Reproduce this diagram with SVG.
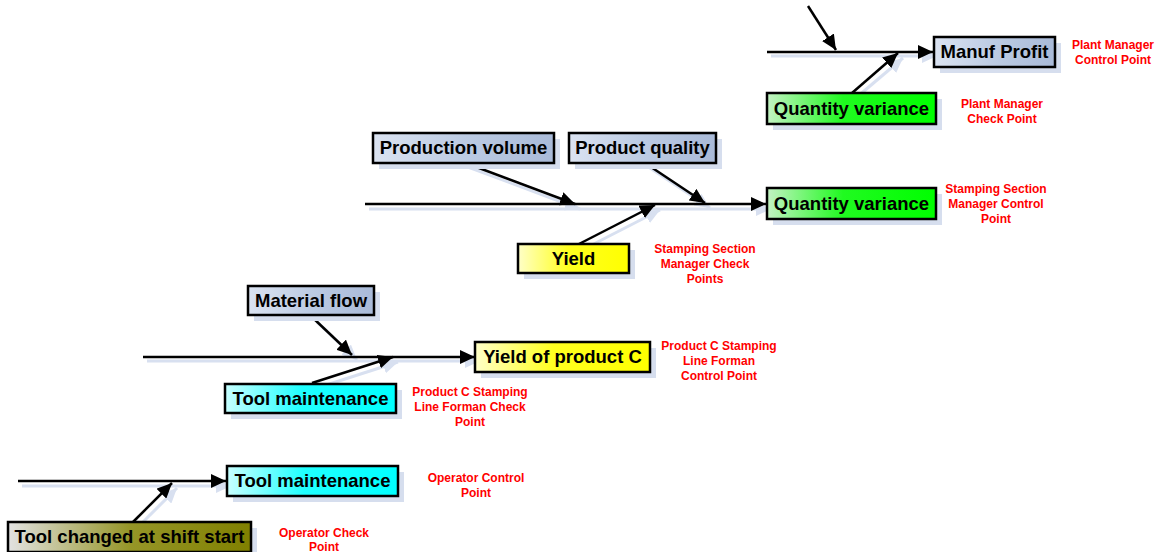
<svg xmlns="http://www.w3.org/2000/svg" width="1159" height="552" viewBox="0 0 1159 552">
<style>
.box{stroke:#000;stroke-width:2.5}
.sh{fill:#d6deee}
.t{font-family:"Liberation Sans",Arial,sans-serif;font-weight:bold;font-size:18.5px;fill:#000;text-anchor:middle}
.r{font-family:"Liberation Sans",Arial,sans-serif;font-weight:bold;font-size:12px;fill:#ff0000;text-anchor:middle}
.ln{stroke:#000;stroke-width:2.5;fill:none;marker-end:url(#ah)}
.lns{stroke:#d8e0f0;stroke-width:3;fill:none;marker-end:url(#ahs)}
</style>
<defs>
<marker id="ah" markerUnits="userSpaceOnUse" markerWidth="16" markerHeight="14" refX="15" refY="7" orient="auto" viewBox="0 0 16 14"><path d="M0,0 L15,7 L0,14 z" fill="#000"/></marker>
<marker id="ahs" markerUnits="userSpaceOnUse" markerWidth="16" markerHeight="14" refX="15" refY="7" orient="auto" viewBox="0 0 16 14"><path d="M0,0 L15,7 L0,14 z" fill="#d8e0f0"/></marker>
<linearGradient id="gb" x1="0" x2="1" y1="0" y2="0"><stop offset="0" stop-color="#dbe3f1"/><stop offset="0.5" stop-color="#bccbe3"/><stop offset="1" stop-color="#a9bad8"/></linearGradient>
<linearGradient id="gg" x1="0" x2="1" y1="0" y2="0"><stop offset="0" stop-color="#c4f2c4"/><stop offset="0.45" stop-color="#20fa20"/><stop offset="1" stop-color="#00ff00"/></linearGradient>
<linearGradient id="gy" x1="0" x2="1" y1="0" y2="0"><stop offset="0" stop-color="#ffffc8"/><stop offset="0.45" stop-color="#ffff20"/><stop offset="1" stop-color="#ffff00"/></linearGradient>
<linearGradient id="gc" x1="0" x2="1" y1="0" y2="0"><stop offset="0" stop-color="#c8ffff"/><stop offset="0.45" stop-color="#20ffff"/><stop offset="1" stop-color="#00ffff"/></linearGradient>
<linearGradient id="go" x1="0" x2="1" y1="0" y2="0"><stop offset="0" stop-color="#e2e2e2"/><stop offset="0.5" stop-color="#969628"/><stop offset="1" stop-color="#808000"/></linearGradient>
</defs>

<g id="connectors-shadow">
<line class="lns" x1="771" y1="56" x2="937" y2="56"/>
<line class="lns" x1="857" y1="97" x2="903" y2="58"/>
<line class="lns" x1="369" y1="209" x2="771" y2="209"/>
<line class="lns" x1="468" y1="167" x2="580" y2="209"/>
<line class="lns" x1="650" y1="168" x2="710" y2="208"/>
<line class="lns" x1="582" y1="250" x2="660" y2="210"/>
<line class="lns" x1="147" y1="361" x2="480" y2="361"/>
<line class="lns" x1="317" y1="322" x2="357" y2="360"/>
<line class="lns" x1="317" y1="388" x2="398" y2="362"/>
<line class="lns" x1="22" y1="486" x2="231" y2="486"/>
<line class="lns" x1="138" y1="527" x2="177" y2="488"/>
</g>

<g id="connectors">
<line class="ln" x1="767" y1="52" x2="933" y2="52"/>
<line class="ln" x1="808" y1="6" x2="836" y2="50"/>
<line class="ln" x1="852" y1="93" x2="898" y2="53"/>
<line class="ln" x1="365" y1="204" x2="766" y2="204"/>
<line class="ln" x1="463" y1="162" x2="575" y2="204"/>
<line class="ln" x1="645" y1="163" x2="705" y2="203"/>
<line class="ln" x1="577" y1="245" x2="655" y2="205"/>
<line class="ln" x1="143" y1="357" x2="475" y2="357"/>
<line class="ln" x1="312" y1="317" x2="352" y2="355"/>
<line class="ln" x1="312" y1="383" x2="393" y2="357"/>
<line class="ln" x1="18" y1="481" x2="226" y2="481"/>
<line class="ln" x1="133" y1="522" x2="172" y2="483"/>
</g>

<g id="manuf-profit">
<rect class="sh" x="940" y="43" width="121" height="30"/>
<rect class="box" x="934" y="37" width="121" height="30" fill="url(#gb)"/>
<text class="t" x="994.5" y="58">Manuf Profit</text>
</g>
<g id="qv-top">
<rect class="sh" x="773" y="99" width="169" height="31"/>
<rect class="box" x="767" y="93" width="169" height="31" fill="url(#gg)"/>
<text class="t" x="851.5" y="114.5">Quantity variance</text>
</g>
<g id="production-volume">
<rect class="sh" x="379" y="139" width="181" height="30"/>
<rect class="box" x="373" y="133" width="181" height="30" fill="url(#gb)"/>
<text class="t" x="463.5" y="154">Production volume</text>
</g>
<g id="product-quality">
<rect class="sh" x="575" y="139" width="147" height="30"/>
<rect class="box" x="569" y="133" width="147" height="30" fill="url(#gb)"/>
<text class="t" x="642.5" y="154">Product quality</text>
</g>
<g id="qv-mid">
<rect class="sh" x="773" y="194" width="169" height="31"/>
<rect class="box" x="767" y="188" width="169" height="31" fill="url(#gg)"/>
<text class="t" x="851.5" y="209.5">Quantity variance</text>
</g>
<g id="yield">
<rect class="sh" x="524" y="250" width="111" height="29"/>
<rect class="box" x="518" y="244" width="111" height="29" fill="url(#gy)"/>
<text class="t" x="573.5" y="264.5">Yield</text>
</g>
<g id="material-flow">
<rect class="sh" x="254" y="292" width="126" height="29"/>
<rect class="box" x="248" y="286" width="126" height="29" fill="url(#gb)"/>
<text class="t" x="311" y="306.5">Material flow</text>
</g>
<g id="yield-c">
<rect class="sh" x="481" y="348" width="175" height="30"/>
<rect class="box" x="475" y="342" width="175" height="30" fill="url(#gy)"/>
<text class="t" x="562.5" y="363">Yield of product C</text>
</g>
<g id="tool-maint-mid">
<rect class="sh" x="231" y="390" width="171" height="29"/>
<rect class="box" x="225" y="384" width="171" height="29" fill="url(#gc)"/>
<text class="t" x="310.5" y="404.5">Tool maintenance</text>
</g>
<g id="tool-maint-bot">
<rect class="sh" x="233" y="472" width="171" height="30"/>
<rect class="box" x="227" y="466" width="171" height="30" fill="url(#gc)"/>
<text class="t" x="312.5" y="487">Tool maintenance</text>
</g>
<g id="tool-changed">
<rect class="sh" x="14" y="528" width="243" height="30"/>
<rect class="box" x="8" y="522" width="243" height="30" fill="url(#go)"/>
<text class="t" x="129.5" y="543">Tool changed at shift start</text>
</g>

<g id="labels">
<text class="r" x="1113" y="49">Plant Manager</text>
<text class="r" x="1113" y="64">Control Point</text>
<text class="r" x="1002" y="108">Plant Manager</text>
<text class="r" x="1002" y="123">Check Point</text>
<text class="r" x="996" y="193">Stamping Section</text>
<text class="r" x="996" y="208">Manager Control</text>
<text class="r" x="996" y="223">Point</text>
<text class="r" x="705" y="253">Stamping Section</text>
<text class="r" x="705" y="268">Manager Check</text>
<text class="r" x="705" y="283">Points</text>
<text class="r" x="719" y="350">Product C Stamping</text>
<text class="r" x="719" y="365">Line Forman</text>
<text class="r" x="719" y="380">Control Point</text>
<text class="r" x="470" y="396">Product C Stamping</text>
<text class="r" x="470" y="411">Line Forman Check</text>
<text class="r" x="470" y="426">Point</text>
<text class="r" x="476" y="482">Operator Control</text>
<text class="r" x="476" y="497">Point</text>
<text class="r" x="324" y="537">Operator Check</text>
<text class="r" x="324" y="551">Point</text>
</g>
</svg>
